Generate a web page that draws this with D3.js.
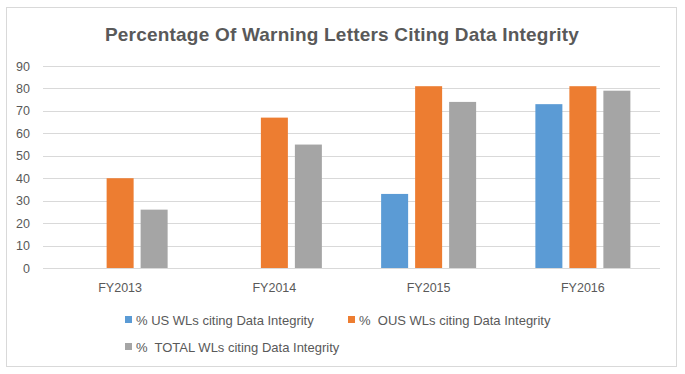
<!DOCTYPE html>
<html>
<head>
<meta charset="utf-8">
<script src="https://cdnjs.cloudflare.com/ajax/libs/d3/7.8.5/d3.min.js"></script>
<style>
  body { margin: 0; background: #fff; }
  svg text { font-family: "Liberation Sans", "DejaVu Sans", sans-serif; fill: #595959; white-space: pre; }
</style>
</head>
<body>
<div id="chart"></div>
<script>
var categories = ["FY2013", "FY2014", "FY2015", "FY2016"];
var seriesNames = ["% US WLs citing Data Integrity", "%  OUS WLs citing Data Integrity", "%  TOTAL WLs citing Data Integrity"];
var usValues = [null, null, 33, 73];
var ousValues = [40, 67, 81, 81];
var totalValues = [26, 55, 74, 79];
var yTicks = [0, 10, 20, 30, 40, 50, 60, 70, 80, 90];
var colors = ["#5b9bd5", "#ed7d31", "#a5a5a5"];

var W = 685, H = 374;
var svg = d3.select("#chart").append("svg").attr("width", W).attr("height", H);

// outer frame
svg.append("rect").attr("x", 6.5).attr("y", 7.5).attr("width", 670).attr("height", 359)
  .attr("fill", "#fff").attr("stroke", "#d9d9d9").attr("stroke-width", 1);

svg.append("text").attr("x", 342).attr("y", 41).attr("text-anchor", "middle")
  .style("font-size", "19px").style("font-weight", "bold").style("letter-spacing", "0.2px")
  .text("Percentage Of Warning Letters Citing Data Integrity");

var plot = { left: 43, right: 660, top: 66, bottom: 268 };

var y = d3.scaleLinear().domain([0, 90]).range([plot.bottom, plot.top]);
var x0 = d3.scaleBand().domain(categories).range([plot.left, plot.right]);
var groupW = 95;
var x1 = d3.scaleBand().domain([0, 1, 2]).range([0, groupW]).paddingInner(7 / 34);

// gridlines
svg.append("g").selectAll("line").data(yTicks).join("line")
  .attr("x1", plot.left).attr("x2", plot.right)
  .attr("y1", function(d){ return Math.round(y(d)) + 0.5; })
  .attr("y2", function(d){ return Math.round(y(d)) + 0.5; })
  .attr("stroke", "#d9d9d9").attr("stroke-width", 1);

// y labels
svg.append("g").selectAll("text").data(yTicks).join("text")
  .attr("x", 30).attr("y", function(d){ return y(d) + 4.5; })
  .attr("text-anchor", "end").style("font-size", "12.5px")
  .text(function(d){ return d; });

var series = [usValues, ousValues, totalValues];
var bars = [];
series.forEach(function(vals, s){
  vals.forEach(function(v, i){
    if (v != null) bars.push({ s: s, cat: categories[i], v: v });
  });
});

svg.append("g").selectAll("rect").data(bars).join("rect")
  .attr("x", function(d){ return x0(d.cat) + (x0.bandwidth() - groupW) / 2 + x1(d.s); })
  .attr("width", x1.bandwidth())
  .attr("y", function(d){ return y(d.v); })
  .attr("height", function(d){ return y(0) - y(d.v); })
  .attr("fill", function(d){ return colors[d.s]; });

// category labels
svg.append("g").selectAll("text").data(categories).join("text")
  .attr("x", function(d){ return x0(d) + x0.bandwidth() / 2; })
  .attr("y", 292).attr("text-anchor", "middle").style("font-size", "12.5px")
  .text(function(d){ return d; });

// legend
var legendPos = [[125, 320], [348, 320], [125, 347]];
var lg = svg.append("g").selectAll("g").data(seriesNames).join("g")
  .attr("transform", function(d, i){ return "translate(" + legendPos[i][0] + "," + legendPos[i][1] + ")"; });
lg.append("rect").attr("x", 0).attr("y", -4).attr("width", 7).attr("height", 7)
  .attr("fill", function(d, i){ return colors[i]; });
lg.append("text").attr("x", 11).attr("y", 4.5).style("font-size", "13px")
  .text(function(d){ return d; });
</script>
</body>
</html>
